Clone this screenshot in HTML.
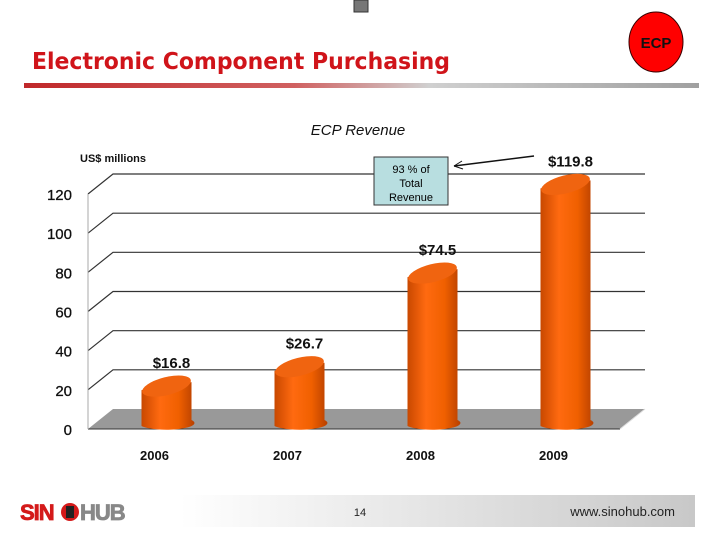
<!DOCTYPE html>
<html><head><meta charset="utf-8"><style>
body{margin:0;width:720px;height:540px;background:#fff;overflow:hidden;position:relative;font-family:"Liberation Sans",sans-serif}
</style></head><body>
<svg width="720" height="540" xmlns="http://www.w3.org/2000/svg">
<defs>
<linearGradient id="hl" x1="0" x2="1"><stop offset="0" stop-color="#c0282a"/><stop offset="0.4" stop-color="#d06060"/><stop offset="0.6" stop-color="#d0d0d0"/><stop offset="1" stop-color="#a0a0a0"/></linearGradient>
<linearGradient id="ft" x1="0" x2="1"><stop offset="0" stop-color="#ffffff"/><stop offset="1" stop-color="#c8c8c8"/></linearGradient>
<linearGradient id="bar" x1="0" x2="1"><stop offset="0" stop-color="#c84800"/><stop offset="0.35" stop-color="#ff6a10"/><stop offset="0.7" stop-color="#f06000"/><stop offset="1" stop-color="#b84000"/></linearGradient>
</defs>
<rect x="354" y="0" width="14" height="12" fill="#777" stroke="#333"/>
<text x="32" y="69" font-family="'DejaVu Sans',sans-serif" font-size="23" font-weight="bold" fill="#d0141a" textLength="418" lengthAdjust="spacingAndGlyphs">Electronic Component Purchasing</text>
<rect x="24" y="83" width="675" height="5" fill="url(#hl)"/>
<g><ellipse cx="656" cy="42" rx="27" ry="30" fill="#f00" stroke="#300"/><text x="656" y="48" font-size="15" font-weight="bold" text-anchor="middle" fill="#111">ECP</text></g>
<text x="358" y="135" font-size="15" font-style="italic" text-anchor="middle" fill="#111">ECP Revenue</text>
<text x="80" y="162" font-size="11" font-weight="bold" fill="#111">US$ millions</text>
<g id="chart"></g>
<g><rect x="374" y="157" width="74" height="48" fill="#b8dee0" stroke="#333"/><text x="411" y="173" font-size="11" text-anchor="middle">93 % of</text><text x="411" y="187" font-size="11" text-anchor="middle">Total</text><text x="411" y="201" font-size="11" text-anchor="middle">Revenue</text></g>
<g><line x1="534" y1="156" x2="454" y2="166" stroke="#111" stroke-width="1.5"/><path d="M454,166 l8,-5 m-8,5 l9,3" stroke="#111" fill="none"/></g>
<rect x="180" y="495" width="515" height="32" fill="url(#ft)"/>
<g><text x="20" y="520" font-size="22" font-weight="bold" fill="#d41a1a" letter-spacing="-1" stroke="#d41a1a" stroke-width="0.8">SIN</text><circle cx="70" cy="512" r="9" fill="#d41a1a"/><rect x="66" y="506" width="8" height="12" fill="#222"/><text x="80" y="520" font-size="22" font-weight="bold" fill="#888" letter-spacing="-1" stroke="#888" stroke-width="0.8">HUB</text></g>
<text x="360" y="516" font-size="11" text-anchor="middle" fill="#222">14</text>
<text x="675" y="516" font-size="13" text-anchor="end" fill="#222">www.sinohub.com</text>
</svg>
<script>
const categories=["2006","2007","2008","2009"];
const values=[16.8,26.7,74.5,119.8];
const valueLabels=["$16.8","$26.7","$74.5","$119.8"];
const ticks=[0,20,40,60,80,100,120];
const NS="http://www.w3.org/2000/svg";
const g=document.getElementById("chart");
const x0=88,x1=620,dx=25,dy=-20,y0=429,ppu=235/120;
const y=v=>y0-v*ppu;
const xc=i=>x0+(i+0.5)*(x1-x0)/categories.length+12;
function mk(t,a,p){const e=document.createElementNS(NS,t);for(const k in a)e.setAttribute(k,a[k]);(p||g).appendChild(e);return e;}
const floor=mk("polygon",{points:`${x0},${y0} ${x1},${y0} ${x1+dx},${y0+dy} ${x0+dx},${y0+dy}`,fill:"#999"});


ticks.forEach(t=>{
  if(t>0){const l=mk("polyline",{points:`${x0},${y(t)} ${x0+dx},${y(t)+dy} ${x1+dx},${y(t)+dy}`,fill:"none",stroke:"#333","stroke-width":1.2});
  
  }
  const tx=mk("text",{x:x0-16,y:y(t)+6,"font-size":15,"text-anchor":"end",fill:"#111",stroke:"#111","stroke-width":0.3});tx.textContent=t;
  
  
});
mk("line",{x1:x0,y1:y0,x2:x1,y2:y0,stroke:"#333"});
mk("line",{x1:x0,y1:y(0),x2:x0,y2:y(120),stroke:"#aaa"});
mk("line",{x1:x1,y1:y0,x2:x1+dx,y2:y0+dy,stroke:"#ddd"});
categories.forEach((c,i)=>{
  const cx=xc(i),w=25,bot=y0-3,top=y(values[i])-6;
  const b=mk("g",{});
  
  
  mk("path",{d:`M${cx-w},${top} L${cx-w},${bot} A${w},6 0 0 0 ${cx+w},${bot-6} L${cx+w},${top-8} Z`,fill:"url(#bar)"},b);
  mk("ellipse",{cx:cx,cy:top-4,rx:w,ry:9,transform:`rotate(-14 ${cx} ${top-4})`,fill:"#f06410"},b);
  const vl=mk("text",{x:cx+5,y:top-22,"font-size":15,"font-weight":"bold","text-anchor":"middle",fill:"#111"});vl.textContent=valueLabels[i];
  
  
  const xl=mk("text",{x:cx-12,y:460,"font-size":13,"font-weight":"bold","text-anchor":"middle",fill:"#111"});xl.textContent=c;
  
  
});
</script>
</body></html>
